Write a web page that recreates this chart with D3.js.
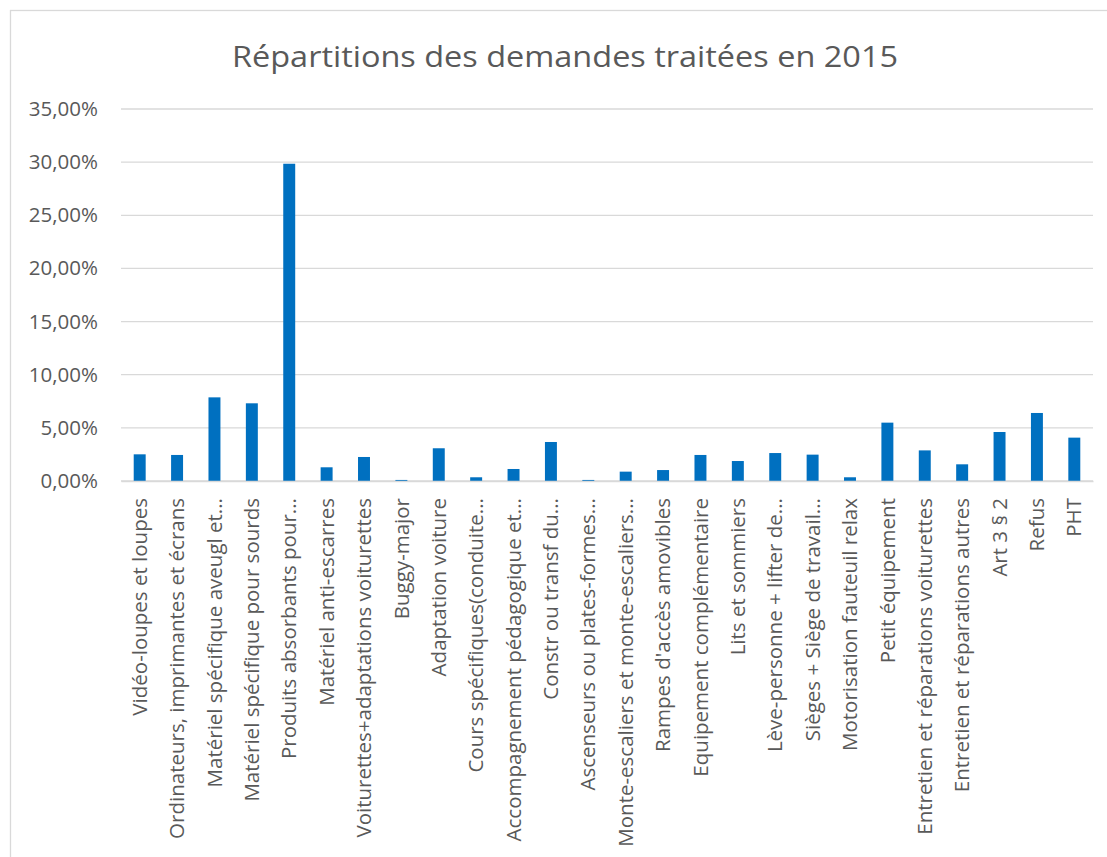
<!DOCTYPE html>
<html>
<head>
<meta charset="utf-8">
<script src="https://cdn.jsdelivr.net/npm/d3@7"></script>
<style>
  body { margin: 0; background: white; }
  svg { display: block; font-family: "Open Sans", "Noto Sans", sans-serif; }
</style>
</head>
<body>
<script>
// categories, as shown (Excel truncates the long ones)
const categories = [
    "Vidéo-loupes et loupes",
    "Ordinateurs, imprimantes et écrans",
    "Matériel spécifique aveugl et...",
    "Matériel spécifique pour sourds",
    "Produits absorbants pour...",
    "Matériel anti-escarres",
    "Voiturettes+adaptations voiturettes",
    "Buggy-major",
    "Adaptation voiture",
    "Cours spécifiques(conduite...",
    "Accompagnement pédagogique et...",
    "Constr ou transf du...",
    "Ascenseurs ou plates-formes...",
    "Monte-escaliers et monte-escaliers...",
    "Rampes d'accès amovibles",
    "Equipement complémentaire",
    "Lits et sommiers",
    "Lève-personne + lifter de...",
    "Sièges + Siège de travail...",
    "Motorisation fauteuil relax",
    "Petit équipement",
    "Entretien et réparations voiturettes",
    "Entretien et réparations autres",
    "Art 3 § 2",
    "Refus",
    "PHT"
]

// share of requests (%)
const values = [
    2.51, 2.45, 7.87, 7.31, 29.85, 1.29, 2.26, 0.10, 3.08, 0.35,
    1.13, 3.67, 0.10, 0.88, 1.03, 2.45, 1.88, 2.63, 2.48, 0.35,
    5.49, 2.88, 1.57, 4.61, 6.40, 4.08
]

const yTicks = [0, 5, 10, 15, 20, 25, 30, 35]

const title = "Répartitions des demandes traitées en 2015"

const W = 1107, H = 857
const margin = { top: 109, right: 14, bottom: 376, left: 121 }
const width = W - margin.left - margin.right
const height = H - margin.top - margin.bottom

const svg = d3.select("body")
    .append("svg")
    .attr("width", W)
    .attr("height", H)

// chart frame
svg.append("rect")
    .attr("x", 10.5)
    .attr("y", 10.5)
    .attr("width", W + 20)
    .attr("height", H + 20)
    .attr("fill", "white")
    .attr("stroke", "#d9d9d9")
    .attr("stroke-width", 1.3)

svg.append("text")
    .attr("x", 565)
    .attr("y", 67)
    .attr("text-anchor", "middle")
    .attr("fill", "#595959")
    .attr("textLength", 666)
    .attr("lengthAdjust", "spacingAndGlyphs")
    .style("font-size", "30px")
    .text(title)

const g = svg.append("g")
    .attr("transform", `translate(${margin.left}, ${margin.top})`)

const xScale = d3.scaleBand()
    .domain(categories)
    .range([0, width])
    .paddingInner(0.68)
    .paddingOuter(0.34)

const yScale = d3.scaleLinear()
    .domain([0, 35])
    .range([height, 0])

// gridlines
g.append("g")
    .selectAll("line")
    .data(yTicks)
    .enter()
    .append("line")
    .attr("x1", 0)
    .attr("x2", width)
    .attr("y1", d => yScale(d))
    .attr("y2", d => yScale(d))
    .attr("stroke", "#d9d9d9")
    .attr("stroke-width", 1.3)

// y axis labels
const yAxis = d3.axisLeft(yScale)
    .tickValues(yTicks)
    .tickSize(0)
    .tickPadding(23)
    .tickFormat(d => d3.format(".2f")(d).replace(".", ",") + "%")

g.append("g")
    .attr("class", "y-axis")
    .call(yAxis)
    .call(a => a.select(".domain").remove())
    .selectAll("text")
    .attr("fill", "#595959")
    .style("font-size", "20.5px")
    .style("font-family", "'Open Sans', sans-serif")

// bars
g.selectAll("rect.bar")
    .data(values)
    .enter()
    .append("rect")
    .attr("class", "bar")
    .attr("x", (d, i) => xScale(categories[i]))
    .attr("y", d => yScale(d))
    .attr("width", xScale.bandwidth())
    .attr("height", d => height - yScale(d))
    .attr("fill", "#0070c0")

// x axis, rotated labels
const xAxis = d3.axisBottom(xScale).tickSize(0).tickPadding(0)

g.append("g")
    .attr("class", "x-axis")
    .attr("transform", `translate(0, ${height})`)
    .call(xAxis)
    .call(a => a.select(".domain").attr("stroke", "#d9d9d9").attr("stroke-width", 1.3))
    .selectAll("text")
    .attr("fill", "#595959")
    .style("font-size", "20.5px")
    .style("font-family", "'Open Sans', sans-serif")
    .attr("text-anchor", "end")
    .attr("transform", "rotate(-90)")
    .attr("x", -17)
    .attr("y", 0)
    .attr("dy", "0.35em")
</script>
</body>
</html>
